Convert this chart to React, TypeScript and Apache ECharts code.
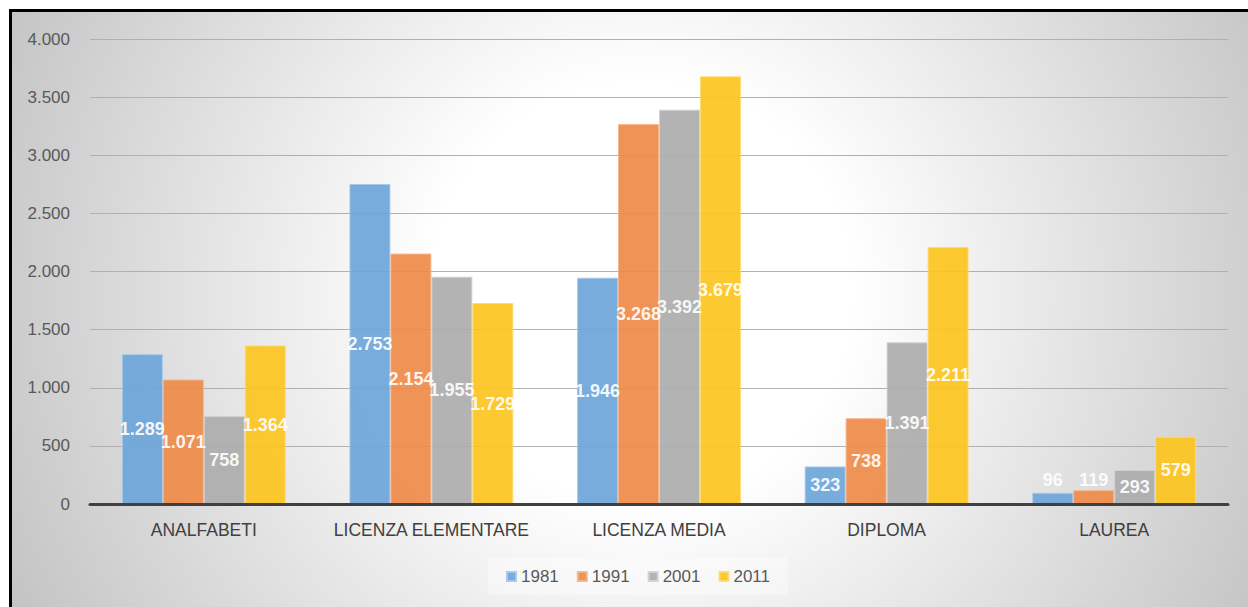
import React, { useEffect, useRef } from "react";
import * as echarts from "echarts";

const categories = ["ANALFABETI", "LICENZA ELEMENTARE", "LICENZA MEDIA", "DIPLOMA", "LAUREA"];
const years = ["1981", "1991", "2001", "2011"];
const values1981 = [1289, 2753, 1946, 323, 96];
const values1991 = [1071, 2154, 3268, 738, 119];
const values2001 = [758, 1955, 3392, 1391, 293];
const values2011 = [1364, 1729, 3679, 2211, 579];
const yTicks = [0, 500, 1000, 1500, 2000, 2500, 3000, 3500, 4000];

const seriesValues = [values1981, values1991, values2001, values2011];
const fills = ["#6ba5da", "#ee8a48", "#adadad", "#fdc41f"];
const borders = ["#a6c9ea", "#f5b48a", "#d2d2d2", "#ffdb70"];

function fmt(v: number): string {
  const s = String(Math.round(v));
  return s.replace(/\B(?=(\d{3})+(?!\d))/g, ".");
}

export default function App() {
  const ref = useRef<HTMLDivElement>(null);
  useEffect(() => {
    if (!ref.current) return;
    const chart = echarts.init(ref.current, undefined, { renderer: "svg" });
    const series = years.map((y, i) => ({
      name: y,
      type: "bar",
      barGap: "0%",
      barCategoryGap: "28%",
      itemStyle: {
        color: fills[i],
        opacity: 0.92,
        borderColor: borders[i],
        borderWidth: 1,
      },
      label: {
        show: true,
        position: "inside",
        color: "#ffffff",
        fontWeight: "bold",
        fontSize: 18,
        fontFamily: "Liberation Sans, Arial, sans-serif",
        formatter: (p: any) => fmt(p.value),
      },
      data: seriesValues[i].map((v) =>
        v < 200
          ? { value: v, label: { position: "top", distance: v < 110 ? 4 : 1 } }
          : { value: v }
      ),
    }));
    chart.setOption({
      animation: false,
      backgroundColor: new echarts.graphic.RadialGradient(
        630,
        280,
        700,
        [
          { offset: 0, color: "#ffffff" },
          { offset: 0.3, color: "#ffffff" },
          { offset: 1, color: "#c4c4c4" },
        ],
        true
      ),
      grid: { left: 78, right: 20, top: 27, bottom: 103 },
      legend: {
        data: years,
        left: 476,
        top: 546,
        padding: [10, 18],
        itemWidth: 9,
        itemHeight: 9,
        itemGap: 18,
        icon: "rect",
        backgroundColor: "rgba(255,255,255,0.35)",
        textStyle: {
          color: "#595959",
          fontSize: 17,
          fontFamily: "Liberation Sans, Arial, sans-serif",
        },
      },
      xAxis: {
        type: "category",
        data: categories,
        axisLine: { lineStyle: { color: "#404040", width: 3 } },
        axisTick: { show: false },
        axisLabel: {
          interval: 0,
          color: "#404040",
          fontSize: 17.5,
          margin: 17,
          fontFamily: "Liberation Sans, Arial, sans-serif",
        },
        z: 5,
      },
      yAxis: {
        type: "value",
        min: yTicks[0],
        max: yTicks[yTicks.length - 1],
        interval: 500,
        axisLine: { show: false },
        axisTick: { show: false },
        splitLine: { lineStyle: { color: "#b0b0b0", width: 1 } },
        axisLabel: {
          color: "#595959",
          fontSize: 17,
          margin: 20,
          fontFamily: "Liberation Sans, Arial, sans-serif",
          formatter: (v: number) => fmt(v),
        },
      },
      series,
    });
    return () => chart.dispose();
  }, []);
  return (
    <div
      style={{
        position: "absolute",
        left: 9,
        top: 9,
        width: 1239,
        height: 598,
        borderLeft: "3px solid #000",
        borderTop: "3px solid #000",
        boxSizing: "border-box",
        overflow: "hidden",
      }}
    >
      <div ref={ref} style={{ width: 1236, height: 595 }} />
    </div>
  );
}
